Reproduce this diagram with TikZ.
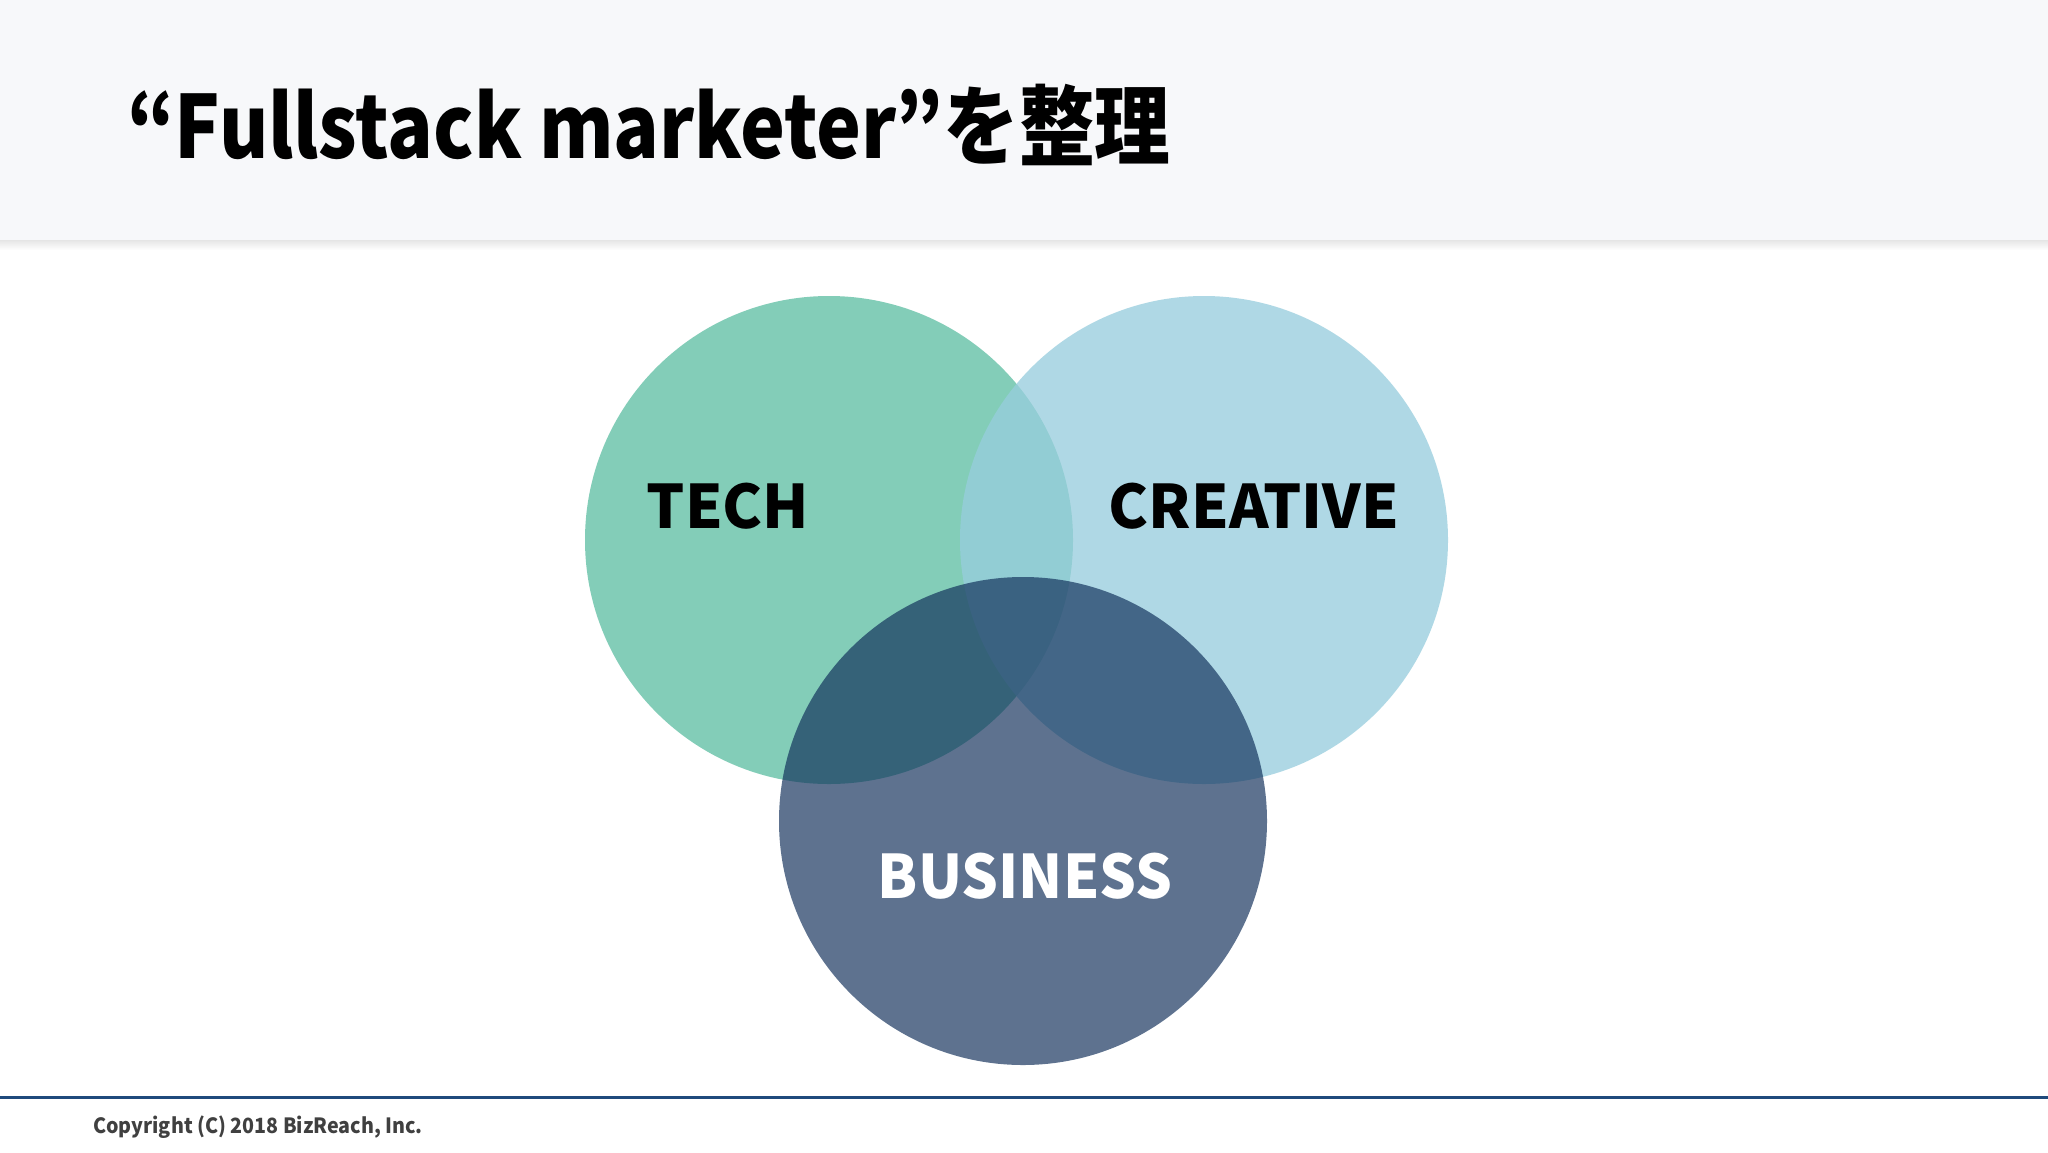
\documentclass[tikz,border=0pt]{standalone}
\usepackage{fontspec}
\setmainfont{Noto Sans CJK JP}
\definecolor{headbg}{HTML}{F7F8FA}
\definecolor{techgreen}{HTML}{83CDB8}
\definecolor{creablue}{RGB}{151,205,221}
\definecolor{busblue}{RGB}{15,46,89}
\definecolor{footblue}{HTML}{1F4A7C}
\definecolor{copygray}{HTML}{404040}
\tikzset{
  venn/.style={circle, minimum size=488pt, inner sep=0pt, draw=none},
  label/.style={font=\bfseries\fontsize{60}{70}\selectfont, inner sep=0pt, anchor=base},
}
\begin{document}
\begin{tikzpicture}[x=1pt,y=-1pt]
\useasboundingbox (0,0) rectangle (2048,1152);
\fill[white] (0,0) rectangle (2048,1152);
% header
\shade[top color=black!14, bottom color=white] (0,236) rectangle (2048,250);
\fill[headbg] (0,0) rectangle (2048,240);
\node[anchor=base west, inner sep=0pt, font=\bfseries\fontsize{87}{100}\selectfont] (title) at (127,158) {\scalebox{0.87}[1]{“Fullstack marketer”を整理}};
% circles
\node[venn, fill=techgreen] (tech) at (829,540) {};
\node[venn, fill=creablue, fill opacity=0.76] (crea) at (1204,540) {};
\node[venn, fill=busblue, fill opacity=0.67] (bus) at (1023,821) {};
% labels
\node[label, text=black] (techl) at (728,528) {TECH};
\node[label, text=black] (creal) at (1254,528) {CREATIVE};
\node[label, text=white] (busl) at (1025,898) {\scalebox{0.965}[1]{BUSINESS}};
% footer
\coordinate (fl) at (0,1097.5);
\coordinate (fr) at (2048,1097.5);
\draw[footblue, line width=3pt] (fl) -- (fr);
\node[anchor=base west, inner sep=0pt, text=copygray, font=\bfseries\fontsize{21}{25}\selectfont] (copy) at (93,1133) {\scalebox{0.937}[1]{Copyright (C) 2018 BizReach, Inc.}};
\end{tikzpicture}
\end{document}
